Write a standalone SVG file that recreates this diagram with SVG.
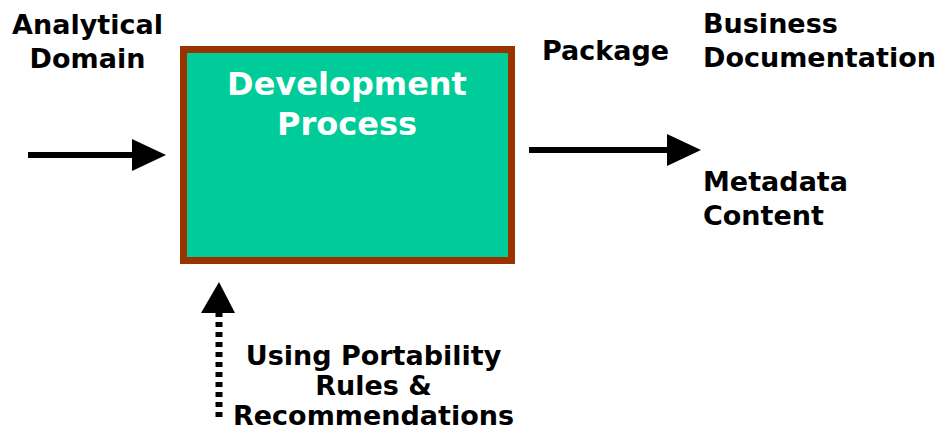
<svg xmlns="http://www.w3.org/2000/svg" width="946" height="443" viewBox="0 0 946 443">
<style>
.lbl{font-family:"DejaVu Sans","Verdana",sans-serif;font-weight:bold;font-size:27px;fill:#000}
.title{font-family:"DejaVu Sans","Verdana",sans-serif;font-weight:bold;font-size:32px;fill:#fff}
.conn{stroke:#000;stroke-width:6;fill:none}
</style>
<rect width="946" height="443" fill="#fff"/>
<g id="process">
<rect x="183.5" y="49.5" width="328" height="211" fill="#00CC99" stroke="#993300" stroke-width="7"/>
<text class="title" x="347" y="95" text-anchor="middle">Development</text>
<text class="title" x="347" y="135" text-anchor="middle">Process</text>
</g>
<g id="input-label">
<text class="lbl" x="87.5" y="34" text-anchor="middle">Analytical</text>
<text class="lbl" x="87.5" y="68" text-anchor="middle">Domain</text>
</g>
<g id="package-label">
<text class="lbl" x="605.5" y="60" text-anchor="middle">Package</text>
</g>
<g id="business-doc">
<text class="lbl" x="703" y="33">Business</text>
<text class="lbl" x="703" y="67">Documentation</text>
</g>
<g id="metadata">
<text class="lbl" x="703" y="191">Metadata</text>
<text class="lbl" x="703" y="225">Content</text>
</g>
<g id="rules">
<text class="lbl" x="373.5" y="365" text-anchor="middle">Using Portability</text>
<text class="lbl" x="373.5" y="395" text-anchor="middle">Rules &amp;</text>
<text class="lbl" x="373.5" y="425" text-anchor="middle">Recommendations</text>
</g>
<g id="connectors">
<line class="conn" x1="28" y1="155" x2="134" y2="155"/>
<polygon points="132,139 166,155 132,171" fill="#000"/>
<line class="conn" x1="529" y1="150" x2="669" y2="150"/>
<polygon points="667,134 701,150 667,166" fill="#000"/>
<line x1="219" y1="417" x2="219" y2="312" stroke="#000" stroke-width="7" stroke-dasharray="5 5"/>
<polygon points="201,313 219,282 235,313" fill="#000"/>
</g>
</svg>
